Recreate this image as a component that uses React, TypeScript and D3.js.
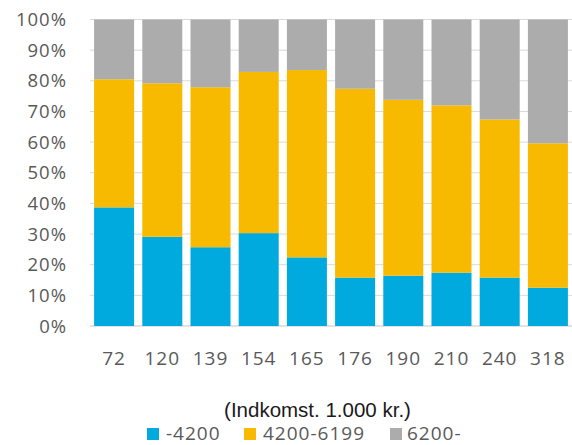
import * as d3 from "d3";

// income groups on x axis (1.000 kr.)
const categories = ["72", "120", "139", "154", "165", "176", "190", "210", "240", "318"];

// share of each group in percent
const low = [38.7, 29.1, 25.7, 30.3, 22.4, 15.8, 16.4, 17.4, 15.8, 12.5];
const mid = [41.8, 50.1, 52.2, 52.6, 61.1, 61.6, 57.4, 54.6, 51.6, 47.1];
const high = [19.5, 20.8, 22.1, 17.1, 16.5, 22.6, 26.2, 28.0, 32.6, 40.4];

const seriesKeys = ["-4200", "4200-6199", "6200-"];
const seriesColors = ["#00AADE", "#F7BA00", "#ABACAB"];
const yTicks = [0, 10, 20, 30, 40, 50, 60, 70, 80, 90, 100];

const W = 572;
const H = 445;
const FONT = "'Open Sans', sans-serif";

export default function App() {
  const x = d3
    .scaleBand()
    .domain(categories)
    .range([90, 572])
    .paddingInner(0.17)
    .paddingOuter(0.085);
  const y = d3.scaleLinear().domain([0, 100]).range([326, 19.5]);

  const table = categories.map((c, i) => ({
    cat: c,
    "-4200": low[i],
    "4200-6199": mid[i],
    "6200-": high[i],
  }));
  const stacked = d3.stack().keys(seriesKeys)(table as any);

  // legend layout
  const legendItems = [
    { key: seriesKeys[0], sq: 147, tx: 166 },
    { key: seriesKeys[1], sq: 244, tx: 263 },
    { key: seriesKeys[2], sq: 390, tx: 407 },
  ];

  return (
    <svg
      width={W}
      height={H}
      style={{ position: "absolute", left: 0, top: 0, background: "#fff" }}
    >
      {/* gridlines */}
      {yTicks.map((t) => (
        <line
          key={t}
          x1={90}
          x2={572}
          y1={y(t)}
          y2={y(t)}
          stroke="#D9D9D9"
          strokeWidth={t === 0 ? 1.5 : 1}
        />
      ))}
      {/* y labels */}
      {yTicks.map((t) => (
        <text
          key={"l" + t}
          x={67}
          y={y(t)}
          dy="0.36em"
          textAnchor="end"
          fontFamily={FONT}
          fontSize={18.5}
          letterSpacing={1}
          fill="#595959"
        >
          {t}%
        </text>
      ))}
      {/* bars */}
      {stacked.map((s, si) => (
        <g key={s.key} fill={seriesColors[si]}>
          {s.map((d: any) => (
            <rect
              key={d.data.cat}
              x={x(d.data.cat)}
              y={y(d[1])}
              width={x.bandwidth()}
              height={y(d[0]) - y(d[1])}
            />
          ))}
        </g>
      ))}
      {/* x labels */}
      {categories.map((c) => (
        <text
          key={"x" + c}
          x={(x(c) ?? 0) + x.bandwidth() / 2}
          y={365}
          textAnchor="middle"
          fontFamily={FONT}
          fontSize={19}
          letterSpacing={1}
          fill="#595959"
        >
          {c}
        </text>
      ))}
      {/* axis title */}
      <text
        x={317.5}
        y={417}
        textAnchor="middle"
        fontFamily="'Liberation Sans', Arial, sans-serif"
        fontSize={20.5}
        fill="#1a1a1a"
      >
        (Indkomst. 1.000 kr.)
      </text>
      {/* legend */}
      {legendItems.map((it, i) => (
        <g key={it.key}>
          <rect x={it.sq} y={428} width={12} height={12} fill={seriesColors[i]} />
          <text
            x={it.tx}
            y={440}
            fontFamily={FONT}
            fontSize={19}
            letterSpacing={1}
            fill="#595959"
          >
            {it.key}
          </text>
        </g>
      ))}
    </svg>
  );
}
